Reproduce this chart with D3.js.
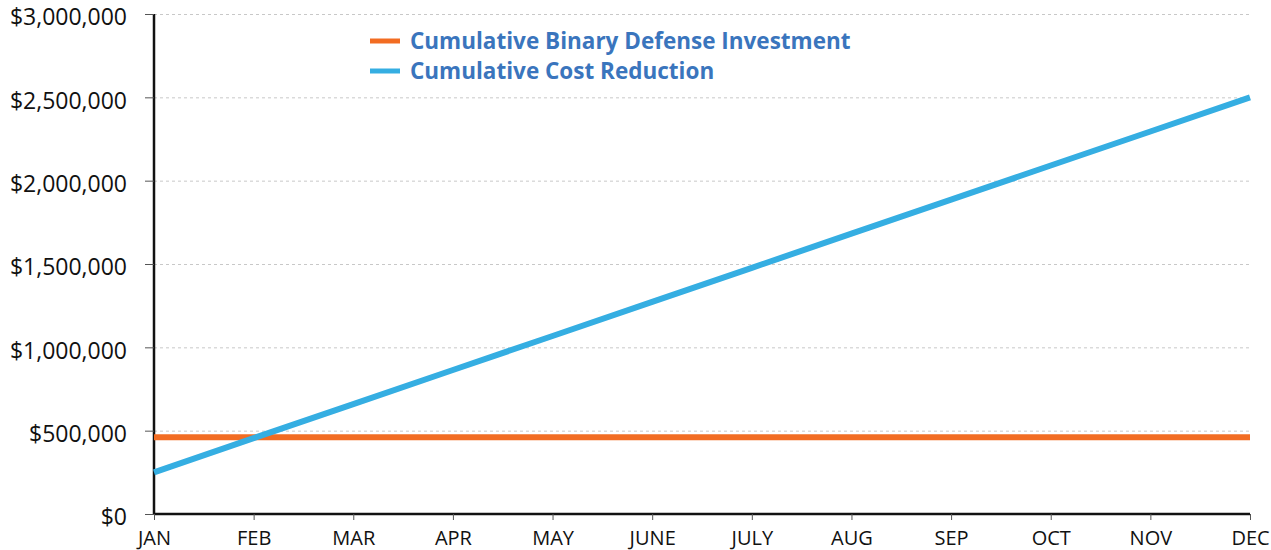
<!DOCTYPE html>
<html>
<head>
<meta charset="utf-8">
<script src="https://cdn.jsdelivr.net/npm/d3@7"></script>
<style>
body{margin:0;background:#fff;}
svg{display:block;font-family:"Open Sans",sans-serif;}
svg text{font-family:"Open Sans",sans-serif;}
.grid line{stroke:#c8c8c8;stroke-dasharray:3,3;}
.grid path{display:none;}
</style>
</head>
<body>
<svg id="svg" width="1271" height="550"></svg>
<script>
var months=["JAN","FEB","MAR","APR","MAY","JUNE","JULY","AUG","SEP","OCT","NOV","DEC"];
var investment=[460000,460000,460000,460000,460000,460000,460000,460000,460000,460000,460000,460000];
var costReduction=[250000,455000,659000,864000,1068000,1273000,1477000,1682000,1886000,2091000,2295000,2500000];
var yTicks=[0,500000,1000000,1500000,2000000,2500000,3000000];
var seriesNames=["Cumulative Binary Defense Investment","Cumulative Cost Reduction"];
var seriesColors=["#f26c22","#35aee2"];

var svg=d3.select("#svg")
var margin={left:154,right:21,top:14,bottom:36}
var width=1271-margin.left-margin.right
var height=550-margin.top-margin.bottom

var g=svg.append("g").attr("transform","translate("+margin.left+","+margin.top+")")

var x=d3.scalePoint().domain(months).range([0,width])
var y=d3.scaleLinear().domain([0,3000000]).range([height,0])

//gridlines
g.append("g").attr("class","grid")
    .call(d3.axisLeft(y).tickValues(yTicks.slice(1)).tickSize(-width).tickFormat(""))

//y axis
var yAxis=g.append("g")
    .call(d3.axisLeft(y).tickValues(yTicks).tickSize(9).tickPadding(18).tickFormat(d=>"$"+d3.format(",")(d)))
yAxis.attr("font-family",null).attr("font-size",null)
yAxis.select(".domain").attr("stroke","#111").attr("stroke-width",2.5).attr("d","M0,"+height+"V0")
yAxis.selectAll(".tick line").attr("stroke","#555")
yAxis.selectAll("text").style("font-size","23px").attr("fill","#111").attr("dy","0.47em")

//x axis
var xAxis=g.append("g").attr("transform","translate(0,"+height+")")
    .call(d3.axisBottom(x).tickSize(6).tickPadding(11))
xAxis.attr("font-family",null).attr("font-size",null)
xAxis.select(".domain").attr("stroke","#111").attr("stroke-width",2.5).attr("d","M0,0H"+width)
xAxis.selectAll(".tick line").attr("stroke","#555")
xAxis.selectAll("text").style("font-size","20px").attr("fill","#111")

//lines
var line=d3.line().x((d,i)=>x(months[i])).y(d=>y(d))
var allSeries=[investment,costReduction]
g.selectAll(".series")
    .data(allSeries)
    .enter().append("path")
        .attr("class","series")
        .attr("d",line)
        .attr("fill","none")
        .attr("stroke",(d,i)=>seriesColors[i])
        .attr("stroke-width",6)

//legend
var legend=svg.append("g").attr("transform","translate(370,41)")
var legendCell=legend.selectAll("g")
    .data(seriesNames)
    .enter().append("g")
        .attr("transform",(d,i)=>"translate(0,"+i*30+")")
legendCell.append("line")
    .attr("x1",0).attr("x2",30)
    .attr("stroke",(d,i)=>seriesColors[i])
    .attr("stroke-width",5)
legendCell.append("text")
    .text(d=>d)
    .attr("x",40)
    .attr("dy","0.35em")
    .style("font-size","22.5px")
    .style("font-weight","bold")
    .attr("fill","#3a75bd")
</script>
</body>
</html>
